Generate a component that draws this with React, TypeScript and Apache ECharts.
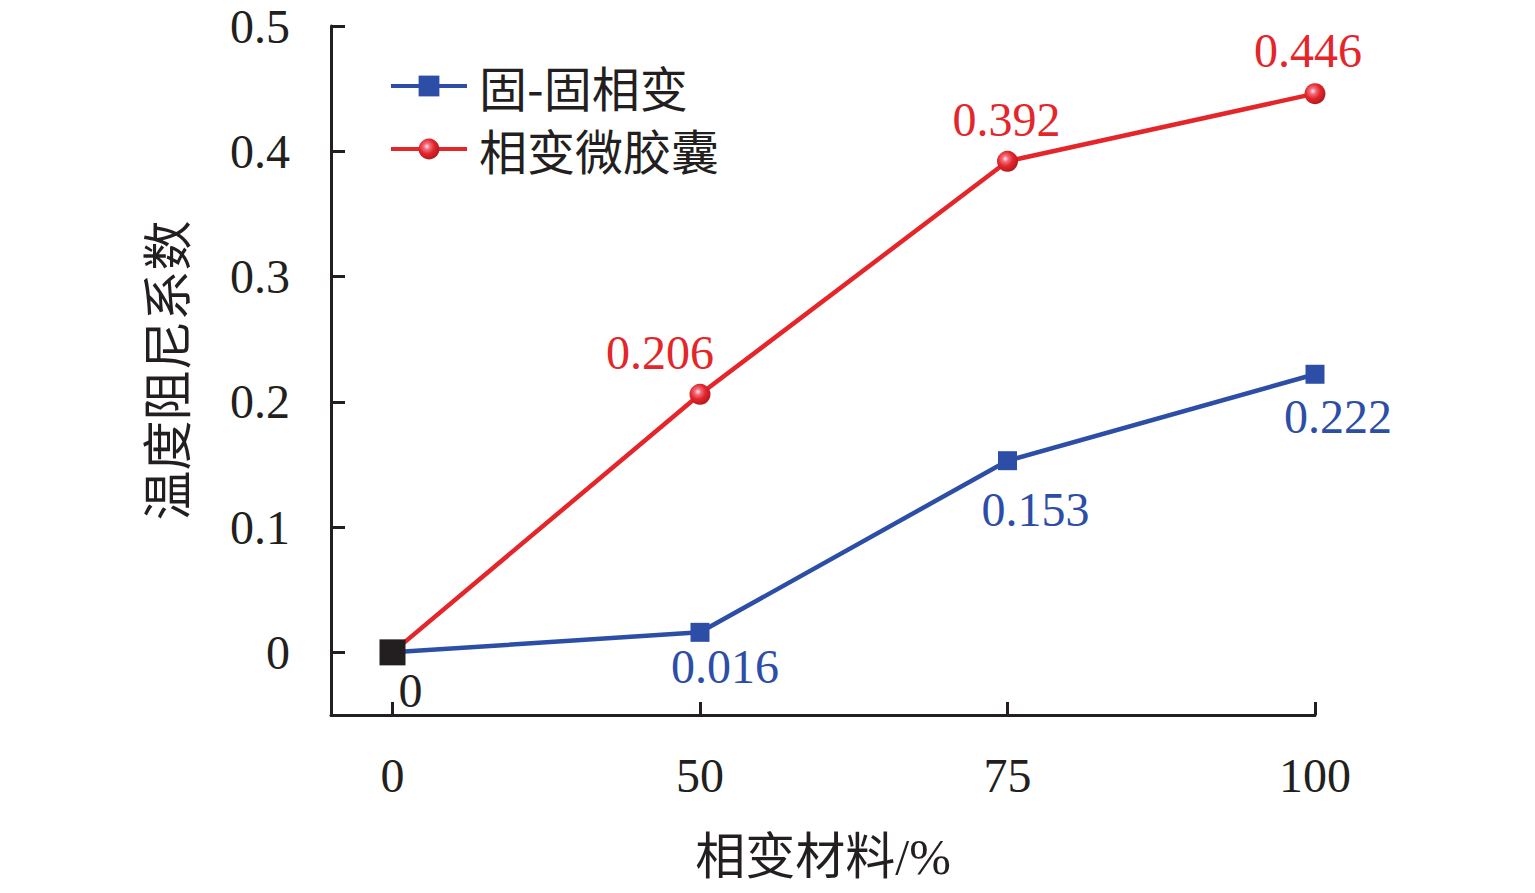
import React, { useEffect, useRef } from "react";
import * as echarts from "echarts";

const categories = ["0", "50", "75", "100"];
const solidSolid = [0, 0.016, 0.153, 0.222];
const microcapsule = [0, 0.206, 0.392, 0.446];
const yTicks = [0, 0.1, 0.2, 0.3, 0.4, 0.5];
const blueOffsets = [[18, -4], [25, -4], [28, 10], [23, 4]];
const redOffsets = [[0, 0], [-40, -2], [-1, -2], [-7, -4]];

const BLUE = "#2c4ea6";
const RED = "#e4262b";
const INK = "#231f20";
const SERIF = "'Liberation Serif', 'Noto Sans CJK SC', serif";
const CJK = "'Noto Sans CJK SC', 'Liberation Serif', sans-serif";

export default function App() {
  const ref = useRef<HTMLDivElement>(null);
  useEffect(() => {
    if (!ref.current) return;
    const chart = echarts.init(ref.current, null, { renderer: "svg" });
    const redBall = {
      type: "radial",
      x: 0.4,
      y: 0.38,
      r: 0.65,
      colorStops: [
        { offset: 0, color: "#ffe6ec" },
        { offset: 0.22, color: "#f07080" },
        { offset: 0.55, color: RED },
        { offset: 1, color: "#b01820" },
      ],
    };
    const blueData = solidSolid.map((v, i) => ({
      value: [i, v],
      symbolSize: i === 0 ? 26 : 19,
      itemStyle: i === 0 ? { color: INK } : undefined,
      label: {
        show: true,
        position: "bottom",
        offset: blueOffsets[i],
        color: i === 0 ? INK : BLUE,
        formatter: () => String(v),
      },
    }));
    const redData = microcapsule.map((v, i) => ({
      value: [i, v],
      symbolSize: i === 0 ? 0 : 21,
      label: {
        show: i !== 0,
        position: "top",
        offset: redOffsets[i],
        color: RED,
        formatter: () => String(v),
      },
    }));
    chart.setOption({
      animation: false,
      backgroundColor: "#ffffff",
      grid: { left: 331, right: 220, top: 26, bottom: 178, containLabel: false },
      legend: {
        data: ["固-固相变", "相变微胶囊"],
        orient: "vertical",
        left: 384,
        top: 57,
        itemWidth: 76,
        itemHeight: 26,
        itemGap: 15,
        lineStyle: { width: 4 },
        textStyle: { fontFamily: CJK, fontSize: 48, color: INK, lineHeight: 48, padding: [0, 0, 0, 7] },
      },
      xAxis: {
        type: "value",
        min: -0.2,
        max: 3,
        name: "相变材料/%",
        nameLocation: "middle",
        nameGap: 117,
        nameTextStyle: { fontFamily: SERIF, fontSize: 50, color: INK },
        axisLine: { show: true, onZero: false, lineStyle: { color: INK, width: 3 } },
        axisTick: { show: true, inside: true, length: 13, customValues: [0, 1, 2, 3], lineStyle: { color: INK, width: 3 } },
        axisLabel: {
          customValues: [0, 1, 2, 3],
          formatter: (v: number) => categories[Math.round(v)] ?? "",
          fontFamily: SERIF,
          fontSize: 48,
          color: INK,
          margin: 36,
        },
        splitLine: { show: false },
      },
      yAxis: {
        type: "value",
        min: -0.05,
        max: 0.5,
        name: "温度阻尼系数",
        nameLocation: "middle",
        nameGap: 142,
        nameTextStyle: { fontFamily: CJK, fontSize: 50, color: INK },
        axisLine: { show: true, onZero: false, lineStyle: { color: INK, width: 3 } },
        axisTick: { show: true, inside: true, length: 14, customValues: yTicks, lineStyle: { color: INK, width: 3 } },
        axisLabel: {
          customValues: yTicks,
          formatter: (v: number) => String(Math.round(v * 10) / 10),
          fontFamily: SERIF,
          fontSize: 48,
          color: INK,
          margin: 41,
        },
        splitLine: { show: false },
      },
      series: [
        {
          name: "相变微胶囊",
          type: "line",
          symbol: "circle",
          symbolSize: 21,
          data: redData,
          lineStyle: { color: RED, width: 4.5 },
          itemStyle: { color: redBall, borderWidth: 0 },
          label: { fontFamily: SERIF, fontSize: 48 },
          z: 2,
        },
        {
          name: "固-固相变",
          type: "line",
          symbol: "rect",
          symbolSize: 19,
          data: blueData,
          lineStyle: { color: BLUE, width: 4.5 },
          itemStyle: { color: BLUE, borderWidth: 0 },
          label: { fontFamily: SERIF, fontSize: 48 },
          z: 3,
        },
      ],
    });
    return () => chart.dispose();
  }, []);
  return (
    <div
      ref={ref}
      style={{ position: "fixed", left: 0, top: 0, width: 1535, height: 893, background: "#fff" }}
    />
  );
}
